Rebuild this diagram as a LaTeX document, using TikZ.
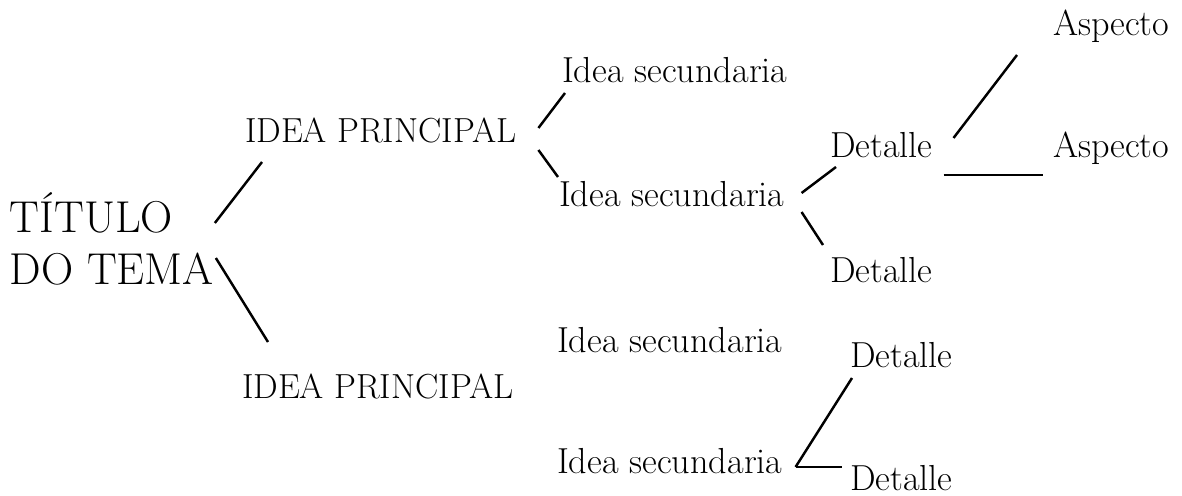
\documentclass[tikz,border=0pt]{standalone}
\usepackage{tikz}
\usetikzlibrary{positioning,calc}

\begin{document}
\begin{tikzpicture}[
    x=0.02cm, y=-0.02cm,
    tema/.style={inner sep=0pt, outer sep=0pt, align=left, font=\fontsize{25.4}{29.6}\selectfont},
    princ/.style={inner sep=0pt, outer sep=0pt, anchor=base west, font=\fontsize{19.8}{24}\selectfont},
    hoja/.style={inner sep=0pt, outer sep=0pt, anchor=base west, font=\fontsize{20.6}{24}\selectfont},
    rama/.style={line width=1.4pt}
]
\useasboundingbox (0,0) rectangle (1182,496);

% Title
\node[tema, anchor=south west] (tema) at (10,285) {TÍTULO\\DO TEMA};

% Main ideas
\node[princ] (ip1) at (245,143) {IDEA PRINCIPAL};
\node[princ] (ip2) at (242,398) {IDEA PRINCIPAL};

% Secondary ideas
\node[hoja] (is1) at (562,83) {Idea secundaria};
\node[hoja] (is2) at (559,207) {Idea secundaria};
\node[hoja] (is3) at (557,352) {Idea secundaria};
\node[hoja] (is4) at (557,473) {Idea secundaria};

% Details and aspects
\node[hoja] (de1) at (830,158) {Detalle};
\node[hoja] (de2) at (830,282) {Detalle};
\node[hoja] (de3) at (850,367) {Detalle};
\node[hoja] (de4) at (850,490) {Detalle};
\node[hoja] (as1) at (1053,36) {Aspecto};
\node[hoja] (as2) at (1053,158) {Aspecto};

% Branches
\draw[rama] ($(tema.south east)+(1,-62)$) -- ($(ip1.base west)+(17,19)$);
\draw[rama] ($(tema.south east)+(2,-27)$) -- ($(ip2.base west)+(26,-56)$);
\draw[rama] ($(ip1.base east)+(22,-15)$) -- ($(is1.base west)+(3,10)$);
\draw[rama] ($(ip1.base east)+(22,7)$) -- ($(is2.base west)+(-1,-30)$);
\draw[rama] ($(is2.base east)+(17,-14)$) -- ($(de1.base west)+(6,9)$);
\draw[rama] ($(is2.base east)+(17,5)$) -- ($(de2.base west)+(-7,-37)$);
\draw[rama] ($(de1.base east)+(21,-20)$) -- ($(as1.base west)+(-36,19)$);
\draw[rama] ($(de1.base east)+(11,17)$) -- ($(as2.base west)+(-10,17)$);
\draw[rama] ($(is4.base east)+(13,-6)$) -- ($(de3.base west)+(2,11)$);
\draw[rama] ($(is4.base east)+(13,-6)$) -- ($(de4.base west)+(-8,-23)$);

\end{tikzpicture}
\end{document}
